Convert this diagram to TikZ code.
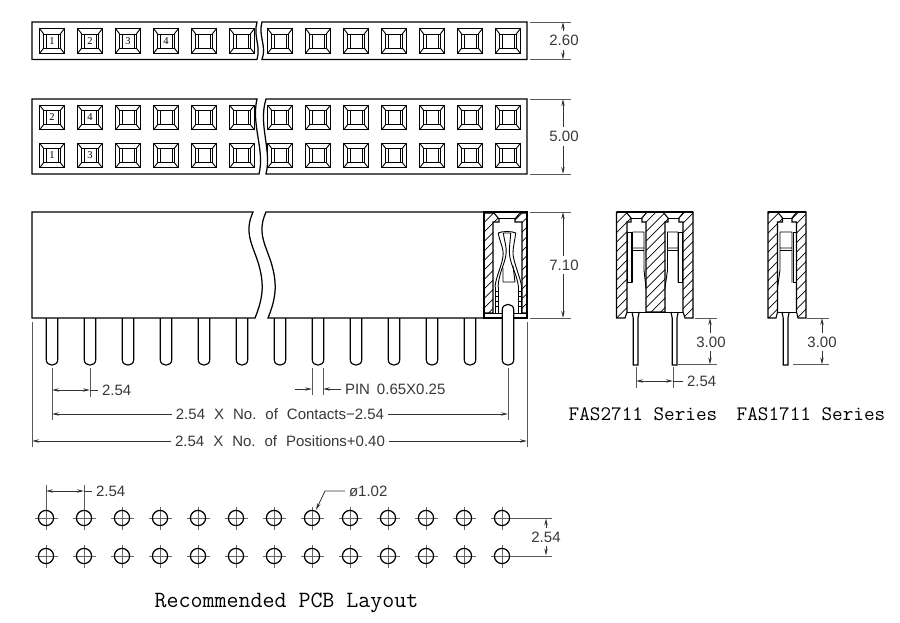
\documentclass[tikz,border=0pt]{standalone}
\usepackage{fontspec}
\setmainfont{Liberation Sans}
\newfontfamily\numfont{Liberation Serif}
\usetikzlibrary{arrows.meta}
\tikzset{
  outline/.style={draw=black,line width=1.25pt,line join=miter},
  thin part/.style={draw=black,line width=0.9pt},
  hatchline/.style={draw=black,line width=0.7pt},
  extline/.style={draw=black!65,line width=0.8pt},
  dimline/.style={draw=black!80,line width=0.8pt},
  dimtip/.style={dimline,-{Stealth[length=7pt,width=3.4pt]}},
  dimtext/.style={inner sep=2pt,outer sep=2pt,text=black!78,font=\fontsize{15}{18}\selectfont},
  title/.style={inner sep=0pt,text=black,font=\ttfamily},
  cellnum/.style={inner sep=0pt,font=\numfont\fontsize{10.5}{11}\selectfont},
  crosshair/.style={draw=black!60,line width=0.7pt},
  hole/.style={draw=black,line width=1.2pt},
  shank/.style={draw=black,line width=1.15pt}
}
\newcommand{\cell}[3]{%
  \begin{scope}[shift={(#1,#2)}]
    \draw[thin part,line width=1.05pt] (-12.3,-12.3) rectangle (12.3,12.3);
    \draw[thin part] (-8.3,-7) rectangle (8.3,7);
    \draw[thin part] (-6,-7) -- (-6,7) (6,-7) -- (6,7);
    \draw[thin part] (-12.3,-12.3) -- (-8.3,-7) (12.3,-12.3) -- (8.3,-7) (-12.3,12.3) -- (-8.3,7) (12.3,12.3) -- (8.3,7);
    \node[cellnum] at (0,0) {#3};
  \end{scope}}
\newcommand{\hatched}[1]{%
  \begin{scope}\clip #1;
    \foreach \d in {300,309.5,...,830} {\draw[hatchline] (\d,340) -- ({\d+140},200);}
  \end{scope}
  \draw[thin part,line width=1.1pt] #1;}
\newcommand{\pcbhole}[2]{%
  \draw[crosshair] (#1-11.5,#2) -- (#1+11.5,#2) (#1,#2-11.5) -- (#1,#2+11.5);
  \draw[hole] (#1,#2) circle[radius=7.6pt];}
\begin{document}
\begin{tikzpicture}[x=1pt,y=-1pt]
\useasboundingbox (0,0) rectangle (900,623);
\fill[white] (0,0) rectangle (900,623);

% --- top strip
\draw[outline] (257,22) -- (32,22) -- (32,59.5) -- (257,59.5) .. controls (261,46) and (253,36) .. cycle;
\draw[outline] (262,22) -- (527,22) -- (527,59.5) -- (262,59.5) .. controls (267,46) and (258,36) .. cycle;
\foreach \x/\t in {52/1,90/2,128/3,166/4,204/,242/,280/,318/,356/,394/,432/,470/,508/} {\cell{\x}{41}{\t}}

% --- second strip
\draw[outline] (257,99) -- (32,99) -- (32,174) -- (259,174) .. controls (265,150) and (251,125) .. cycle;
\draw[outline] (266,99) -- (527,99) -- (527,174) -- (266,174) .. controls (272,150) and (258,125) .. cycle;
\foreach \x/\t in {52/2,90/4,128/,166/,204/,242/,280/,318/,356/,394/,432/,470/,508/} {\cell{\x}{117.5}{\t}}
\foreach \x/\t in {52/1,90/3,128/,166/,204/,242/,280/,318/,356/,394/,432/,470/,508/} {\cell{\x}{155.5}{\t}}

% --- side view
\draw[outline] (253,212) -- (32,212) -- (32,318) -- (255,318)
   .. controls (264,296) and (264,282) .. (258,262) .. controls (252,244) and (244,232) .. cycle;
\draw[outline] (266,212) -- (527,212) -- (527,318) -- (268,318)
   .. controls (277,296) and (277,282) .. (271,262) .. controls (265,244) and (257,232) .. cycle;
\foreach \x in {52,90,...,470} {
  \draw[shank] (\x-5.8,318) -- (\x-5.8,359.5) .. controls (\x-5.8,367) and (\x+5.8,367) .. (\x+5.8,359.5) -- (\x+5.8,318);
}
% section at the right end
\draw[fill=white,draw=none] (484,212) rectangle (527,318);
\hatched{(484,213) -- (494,213) -- (499,219) -- (499,222) -- (493,222) -- (493,313) -- (484,313) -- cycle}
\hatched{(520,213) -- (515,219) -- (515,222) -- (522,222) -- (522,313) -- (527,313) -- (527,213) -- cycle}
\draw[outline] (484,212) rectangle (527,318);
\draw[thin part] (499,218.5) -- (515,218.5) (484,313) -- (527,313);
% spring contact
\draw[thin part] (498.3,233) .. controls (499,240) and (504,248) .. (503,256) .. controls (502,266) and (496,276) .. (495,287);
\draw[thin part] (503.3,233) .. controls (504,240) and (507,246) .. (506,254) .. controls (505,264) and (499,272) .. (498,287);
\draw[thin part] (515.7,233) .. controls (515,240) and (513,246) .. (513,254) .. controls (514,264) and (520,276) .. (521.7,287);
\draw[thin part] (510.7,233) .. controls (510.5,240) and (509,246) .. (509.5,254) .. controls (510,264) and (517,274) .. (518.5,287);
\draw[thin part] (498.3,233) .. controls (502,231) and (512,231) .. (515.7,233);
\draw[thin part] (503.3,233) -- (510.7,233) (503,282) -- (515,282) (503,282) -- (503,268) (515,282) -- (513,266);
\draw[thin part] (495,287) -- (495,313) (498,287) -- (498,313) (518.5,287) -- (518.5,313) (521.7,287) -- (521.7,313);
\foreach \y in {291,296,301,306} {\draw[thin part,line width=0.7pt] (495,\y) -- (498,\y) (518.5,\y) -- (521.7,\y);}
% last pin, running up through the body
\draw[shank,fill=white] (502.2,310) .. controls (502.2,302.5) and (513.8,302.5) .. (513.8,310) -- (513.8,359.5) .. controls (513.8,367) and (502.2,367) .. (502.2,359.5) -- cycle;

% --- FAS2711 section
\hatched{(616.5,212) -- (626,212) -- (631,218) -- (631,222) -- (627,222) -- (627,312) -- (625,318) -- (616.5,318) -- cycle}
\hatched{(647,212) -- (642,218) -- (642,222) -- (646,222) -- (646,312) -- (665,312) -- (665,222) -- (668,222) -- (668,218) -- (663,212) -- cycle}
\hatched{(684,212) -- (679,218) -- (679,222) -- (683,222) -- (683,312) -- (685,318) -- (693,318) -- (693,212) -- cycle}
\draw[outline] (616.5,212) -- (693,212);
\draw[thin part] (631,218) -- (642,218) (668,218) -- (679,218) (627,312) -- (683,312);
\draw[thin part] (627.5,232) rectangle (631,282.5);
\draw[thin part] (632.5,232) -- (644,232) -- (644,270) -- (646,288) (632.5,232) -- (632.5,282.5) (632.5,248) -- (644,248) (632.5,250.5) -- (644,250.5);
\draw[thin part] (678.5,232) rectangle (682.5,282.5);
\draw[thin part] (678,232) -- (667.5,232) -- (667.5,270) -- (665,288) (678,232) -- (678,282.5) (667.5,248) -- (678,248) (667.5,250.5) -- (678,250.5);
\draw[shank] (632,312) -- (633.2,318) -- (633.2,365) -- (638,365) -- (638,318) -- (639.2,312);
\draw[shank] (671,312) -- (672.2,318) -- (672.2,365) -- (677,365) -- (677,318) -- (678.2,312);

% --- FAS1711 section
\hatched{(768,212) -- (777.5,212) -- (782.5,218) -- (782.5,222) -- (777.5,222) -- (777.5,312) -- (776,318) -- (768,318) -- cycle}
\hatched{(797,212) -- (792,218) -- (792,222) -- (796.5,222) -- (796.5,312) -- (798,318) -- (806,318) -- (806,212) -- cycle}
\draw[outline] (768,212) -- (806,212);
\draw[thin part] (782.5,218) -- (792,218) (777.5,312) -- (796.5,312);
\draw[thin part] (793,232) rectangle (796,282.5);
\draw[thin part] (792,232) -- (780,232) -- (780,270) -- (777.5,288) (792,232) -- (792,282.5) (780,248) -- (792,248) (780,250.5) -- (792,250.5);
\draw[shank] (782,312) -- (783.2,318) -- (783.2,365) -- (788,365) -- (788,318) -- (789.2,312);

% --- dimension: 2.60 / 5.00 / 7.10
\node[dimtext] (d260) at (564,40.5) {2.60};
\coordinate (d260t) at (563,22); \coordinate (d260b) at (563,59.5);
\draw[extline] (530,22) -- (571,22) (530,59.5) -- (571,59.5);
\draw[dimtip] (d260.north -| d260t) -- (d260t);
\draw[dimtip] (d260.south -| d260b) -- (d260b);
\node[dimtext] (d500) at (564,136.5) {5.00};
\coordinate (d500t) at (563,99); \coordinate (d500b) at (563,174);
\draw[extline] (530,99) -- (571,99) (530,174) -- (571,174);
\draw[dimtip] (d500.north -| d500t) -- (d500t);
\draw[dimtip] (d500.south -| d500b) -- (d500b);
\node[dimtext] (d710) at (564,265) {7.10};
\coordinate (d710t) at (563,212); \coordinate (d710b) at (563,318);
\draw[extline] (530,212) -- (571,212) (530,318) -- (571,318);
\draw[dimtip] (d710.north -| d710t) -- (d710t);
\draw[dimtip] (d710.south -| d710b) -- (d710b);

% --- dimensions under the pins
\draw[extline] (52,368) -- (52,420) (90,368) -- (90,397) (312,368) -- (312,395) (323,368) -- (323,395) (508,368) -- (508,420) (32,322) -- (32,447) (527,322) -- (527,447);
\node[dimtext,anchor=west] (p254) at (98,390) {2.54};
\coordinate (p254a) at (52,390); \coordinate (p254b) at (90,390); \coordinate (p254m) at (71,390);
\draw[dimtip] (p254m) -- (p254a);
\draw[dimtip] (p254m) -- (p254b);
\draw[dimline] (p254b) -- (p254.west);
\node[dimtext,anchor=west] (pin) at (341,389) {PIN\hspace{7pt}0.65X0.25};
\coordinate (pina) at (312,389); \coordinate (pinb) at (323,389); \coordinate (pinc) at (295,389);
\draw[dimtip] (pinc) -- (pina);
\draw[dimtip] (pin.west) -- (pinb);
\node[dimtext] (cont) at (280,414) {2.54\hspace{9pt}X\hspace{9pt}No.\hspace{9pt}of\hspace{9pt}Contacts−2.54};
\coordinate (conta) at (52,414); \coordinate (contb) at (508,414);
\draw[dimtip] (cont.west) -- (conta);
\draw[dimtip] (cont.east) -- (contb);
\node[dimtext] (posn) at (280,441) {2.54\hspace{9pt}X\hspace{9pt}No.\hspace{9pt}of\hspace{9pt}Positions+0.40};
\coordinate (posa) at (32,441); \coordinate (posb) at (527,441);
\draw[dimtip] (posn.west) -- (posa);
\draw[dimtip] (posn.east) -- (posb);

% --- dimensions of the side sections
\draw[extline] (695,318) -- (717,318) (678,364.5) -- (717,364.5);
\node[dimtext] (s300) at (711,342) {3.00};
\coordinate (s300t) at (710,318); \coordinate (s300b) at (710,364.5);
\draw[dimtip] (s300.north -| s300t) -- (s300t);
\draw[dimtip] (s300.south -| s300b) -- (s300b);
\draw[extline] (807,318) -- (829,318) (793,364.5) -- (829,364.5);
\node[dimtext] (t300) at (822,342) {3.00};
\coordinate (t300t) at (822,318); \coordinate (t300b) at (822,364.5);
\draw[dimtip] (t300.north -| t300t) -- (t300t);
\draw[dimtip] (t300.south -| t300b) -- (t300b);
\draw[extline] (636,367) -- (636,388) (673,367) -- (673,388);
\node[dimtext,anchor=west] (s254) at (683,381) {2.54};
\coordinate (s254a) at (636,381); \coordinate (s254b) at (673,381); \coordinate (s254m) at (654,381);
\draw[dimtip] (s254m) -- (s254a);
\draw[dimtip] (s254m) -- (s254b);
\draw[dimline] (s254b) -- (s254.west);

% --- titles
\node[title,font=\ttfamily\fontsize{20.6}{24}\selectfont] (t1) at (643,414) {FAS2711 Series};
\node[title,font=\ttfamily\fontsize{20.6}{24}\selectfont] (t2) at (811,414) {FAS1711 Series};
\node[title,font=\ttfamily\fontsize{23.3}{26}\selectfont] (t3) at (286.5,603) {Recommended PCB Layout};

% --- PCB layout
\foreach \x in {46,84,...,502} {\pcbhole{\x}{518}\pcbhole{\x}{556}}
\draw[extline] (46,485) -- (46,510) (84,485) -- (84,510);
\node[dimtext,anchor=west] (l254) at (92,491) {2.54};
\coordinate (l254a) at (46,491); \coordinate (l254b) at (84,491); \coordinate (l254m) at (65,491);
\draw[dimtip] (l254m) -- (l254a);
\draw[dimtip] (l254m) -- (l254b);
\draw[dimline] (l254b) -- (l254.west);
\node[dimtext,anchor=west] (dia) at (345,491) {ø1.02};
\coordinate (diak) at (325,491); \coordinate (diat) at (316,510);
\draw[dimtip] (dia.west) -- (diak) -- (diat);
\draw[extline] (511,518) -- (552,518) (511,556) -- (552,556);
\node[dimtext] (h254) at (546,537) {2.54};
\coordinate (h254t) at (546,518.5); \coordinate (h254b) at (546,555.5);
\draw[dimtip] (h254.north -| h254t) -- (h254t);
\draw[dimtip] (h254.south -| h254b) -- (h254b);
\end{tikzpicture}
\end{document}
